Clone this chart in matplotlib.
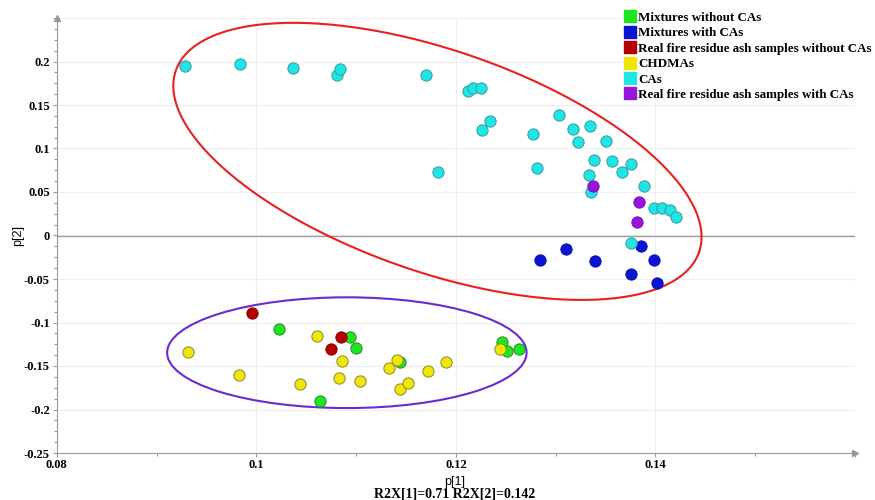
import numpy as np
import matplotlib
matplotlib.use('Agg')
import matplotlib.pyplot as plt
from matplotlib.patches import Ellipse
from matplotlib.ticker import MultipleLocator, FuncFormatter

# scores
mix_no_ca_x = [0.1023, 0.1094, 0.1100, 0.1144, 0.1246, 0.1251, 0.1263, 0.1064]
mix_no_ca_y = [-0.107, -0.1166, -0.129, -0.145, -0.1227, -0.133, -0.131, -0.1897]

mix_ca_x = [0.1386, 0.1310, 0.1284, 0.1339, 0.1399, 0.1376, 0.1402]
mix_ca_y = [-0.012, -0.0158, -0.028, -0.029, -0.028, -0.0447, -0.0547]

real_no_ca_x = [0.0996, 0.1085, 0.1075]
real_no_ca_y = [-0.0894, -0.117, -0.131]

chdma_x = [0.0931, 0.1061, 0.1086, 0.0983, 0.1044, 0.1083, 0.1104,
           0.1133, 0.1141, 0.1172, 0.1190, 0.1244, 0.1144, 0.1152]
chdma_y = [-0.1335, -0.1158, -0.144, -0.1606, -0.171, -0.164, -0.167,
           -0.152, -0.1433, -0.1556, -0.1456, -0.1307, -0.176, -0.170]

ca_x = [0.0928, 0.0984, 0.1037, 0.1081, 0.1084, 0.1170, 0.1182, 0.1212,
        0.1217, 0.1225, 0.1234, 0.1226, 0.1303, 0.1277, 0.1317, 0.1334,
        0.1322, 0.1350, 0.1281, 0.1338, 0.1357, 0.1376, 0.1367, 0.1333,
        0.1389, 0.1335, 0.1399, 0.1407, 0.1415, 0.1421, 0.1376]
ca_y = [0.195, 0.197, 0.193, 0.185, 0.191, 0.184, 0.0726, 0.166,
        0.170, 0.169, 0.132, 0.121, 0.139, 0.117, 0.122, 0.126,
        0.107, 0.109, 0.078, 0.087, 0.086, 0.082, 0.073, 0.070,
        0.057, 0.050, 0.032, 0.032, 0.029, 0.021, -0.009]

real_ca_x = [0.1337, 0.1384, 0.1382]
real_ca_y = [0.057, 0.0385, 0.015]

labels = ['Mixtures without CAs', 'Mixtures with CAs',
          'Real fire residue ash samples without CAs', 'CHDMAs', 'CAs',
          'Real fire residue ash samples with CAs']
colors = ['#1ee61e', '#0a14d2', '#b40000', '#f0e600', '#1ee6e6', '#9614dc']
edges = ['#2a8a2a', '#0a14b0', '#900000', '#8a8a30', '#3a9a9a', '#7a10b8']

series = [(mix_no_ca_x, mix_no_ca_y), (mix_ca_x, mix_ca_y),
          (real_no_ca_x, real_no_ca_y), (chdma_x, chdma_y),
          (ca_x, ca_y), (real_ca_x, real_ca_y)]

fig = plt.figure(figsize=(8.75, 5), dpi=100)
ax = fig.add_axes([0.065, 0.094, 0.912, 0.87])

ax.set_xlim(0.08, 0.16)
ax.set_ylim(-0.25, 0.25)

ax.xaxis.set_major_locator(MultipleLocator(0.02))
ax.xaxis.set_minor_locator(MultipleLocator(0.01))
ax.yaxis.set_major_locator(MultipleLocator(0.05))
ax.yaxis.set_minor_locator(MultipleLocator(0.0125))
ax.xaxis.set_major_formatter(FuncFormatter(lambda v, p: '%g' % round(v, 4) if v < 0.15 else ''))
ax.yaxis.set_major_formatter(FuncFormatter(lambda v, p: '%g' % round(v, 4) if v < 0.24 else ''))

ax.grid(True, which='major', color='#eeeeee', lw=0.8)
ax.set_axisbelow(True)
ax.axhline(0, color='#a0a0a0', lw=1, zorder=1)

for s in ['top', 'right']:
    ax.spines[s].set_visible(False)
for s in ['left', 'bottom']:
    ax.spines[s].set_color('#999999')
ax.tick_params(which='both', colors='#999999', labelcolor='black', length=3, width=0.8)
ax.tick_params(which='minor', length=2)
for t in ax.get_xticklabels() + ax.get_yticklabels():
    t.set_fontfamily('Liberation Serif')
    t.set_fontweight('bold')
    t.set_fontsize(9)
ax.tick_params(axis='x', pad=1)
ax.tick_params(axis='y', pad=2)

ax.plot(1, 0, '>', color='#999999', ms=4, transform=ax.transAxes, clip_on=False)
ax.plot(0, 1, '^', color='#999999', ms=4, transform=ax.transAxes, clip_on=False)

# points
for (xs, ys), c, e in zip(series, colors, edges):
    ax.scatter(xs, ys, s=66, c=c, edgecolors=e, linewidths=0.7, zorder=3)

# group ellipses: red one is tilted on screen, so build it in pixel-like units
px_x, px_y = 9975.0, 872.0
t = np.linspace(0, 2 * np.pi, 400)
a, b, th = 277.0, 111.0, np.deg2rad(-19.2)
u, v = a * np.cos(t), b * np.sin(t)
ex = 0.11815 + (u * np.cos(th) - v * np.sin(th)) / px_x
ey = 0.0852 + (u * np.sin(th) + v * np.cos(th)) / px_y
ax.plot(ex, ey, color='#e8201e', lw=1.5, zorder=2)

ax.add_patch(Ellipse((0.10907, -0.1347), 0.03603, 0.1273, fill=False,
                     edgecolor='#6a2ad0', lw=1.5, zorder=2))

# legend
handles = [plt.Line2D([], [], marker='s', ls='', ms=9, color=c) for c in colors]
leg = fig.legend(handles, labels, loc='upper left', bbox_to_anchor=(0.713, 0.979),
                 prop={'family': 'Liberation Serif', 'weight': 'bold', 'size': 9.4},
                 frameon=True, facecolor='white', edgecolor='none', framealpha=1,
                 handlelength=0.8, handletextpad=0.2, labelspacing=0.25,
                 borderpad=0.1, borderaxespad=0, fancybox=False)

fig.text(0.021, 0.53, 'p[2]', rotation=90, ha='center', va='center',
         fontfamily='Liberation Sans', fontsize=9)
fig.text(0.52, 0.036, 'p[1]', ha='center', va='center',
         fontfamily='Liberation Sans', fontsize=9)
fig.text(0.52, 0.013, 'R2X[1]=0.71 R2X[2]=0.142', ha='center', va='center',
         fontfamily='Liberation Serif', fontweight='bold', fontsize=10)

fig.savefig('out.png', dpi=100)
